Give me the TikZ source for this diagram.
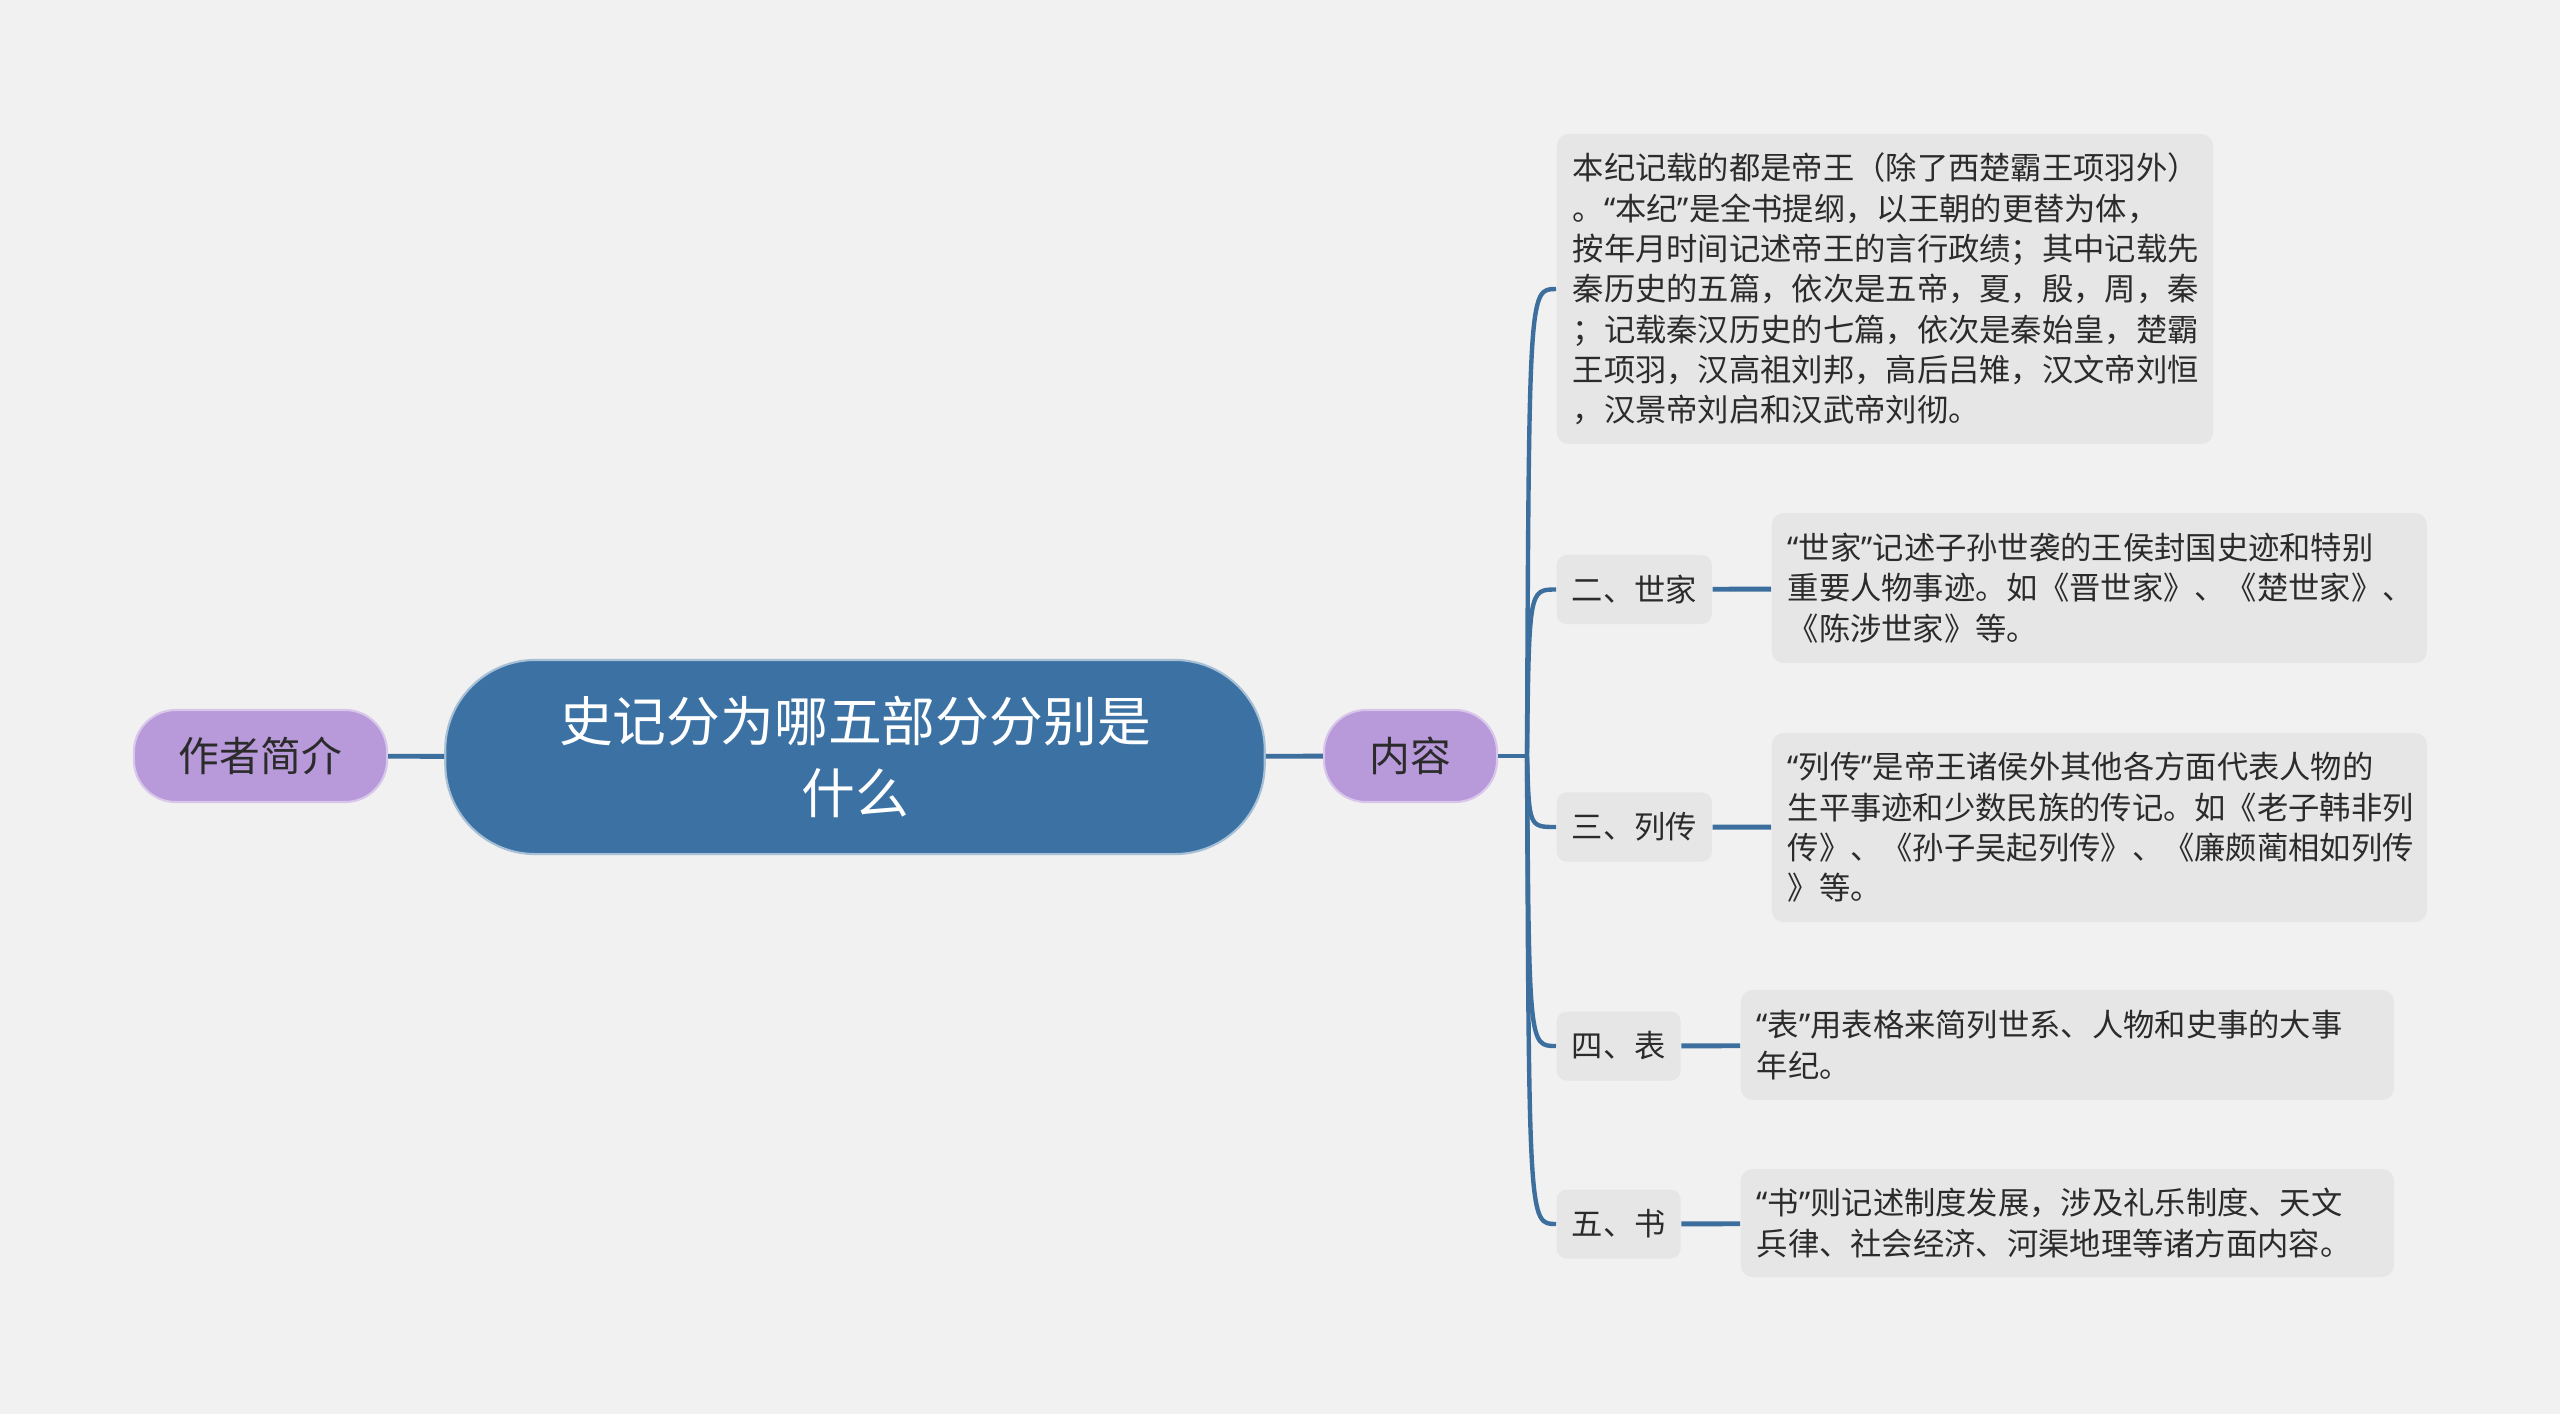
\documentclass[tikz,border=0pt]{standalone}
\usepackage{fontspec}
\setmainfont{Noto Sans CJK SC}
\newfontfamily\quotefont{Noto Sans}
\newcommand\qopen{{\quotefont “}}
\newcommand\qclose{{\quotefont ”}}
\usepackage{tikz}
\usetikzlibrary{calc}

\definecolor{bgcol}{HTML}{F1F1F1}
\definecolor{rootblue}{HTML}{3C72A3}
\definecolor{topicpurple}{HTML}{B899DA}
\definecolor{boxgray}{HTML}{E6E6E6}
\definecolor{linkblue}{HTML}{3D6F9E}
\definecolor{inkcol}{HTML}{2B2B2B}

\begin{document}
\begin{tikzpicture}[x=0.01cm, y=-0.01cm,
    rootnode/.style={fill=rootblue, draw=white!55!rootblue, line width=0.6pt,
      rounded corners=0.9cm, minimum width=8.19cm, minimum height=1.94cm,
      text=white, align=center, font=\fontsize{15.3pt}{20.5pt}\selectfont},
    topicnode/.style={fill=topicpurple, draw=white!45!topicpurple, line width=0.6pt,
      rounded corners=0.42cm, minimum height=0.92cm, text=inkcol,
      font=\fontsize{11.6pt}{14pt}\selectfont},
    labelnode/.style={fill=boxgray, rounded corners=0.1cm, minimum height=0.69cm,
      inner xsep=0.15cm, text=inkcol, anchor=west,
      font=\fontsize{8.9pt}{11.47pt}\selectfont},
    notebox/.style={fill=boxgray, rounded corners=0.12cm, inner xsep=0.16cm,
      align=left, text=inkcol, anchor=west,
      font=\fontsize{8.9pt}{11.47pt}\selectfont},
    link/.style={draw=linkblue, line width=1.4pt},
    curvelink/.style={draw=linkblue, line width=1.25pt}
  ]
  % Background and page size
  \fill[bgcol] (0,0) rectangle (2560,1414);
  \useasboundingbox (0,0) rectangle (2560,1414);

  % Central topic and the two main branches
  \node[rootnode] (root) at (855,757) {史记分为哪五部分分别是\\什么};
  \node[topicnode, minimum width=2.53cm] (author) at (260.5,756) {作者简介};
  \node[topicnode, minimum width=1.73cm] (content) at (1410.5,756) {内容};
  \draw[link] (author) -- (root);
  \draw[link] (root) -- (content);
  \coordinate (fork) at (1527,756);
  \draw[link] (content.east) -- (fork);

  % Children of the content branch
  \node[notebox, text width=6.24cm, minimum height=3.10cm] (benji) at (1556,289)
    {本纪记载的都是帝王（除了西楚霸王项羽外）\\
     。\qopen 本纪\qclose 是全书提纲，以王朝的更替为体，\\
     按年月时间记述帝王的言行政绩；其中记载先\\
     秦历史的五篇，依次是五帝，夏，殷，周，秦\\
     ；记载秦汉历史的七篇，依次是秦始皇，楚霸\\
     王项羽，汉高祖刘邦，高后吕雉，汉文帝刘恒\\
     ，汉景帝刘启和汉武帝刘彻。};
  \node[labelnode] (shijia) at (1556,589.5) {二、世家};
  \node[labelnode] (liezhuan) at (1556,827) {三、列传};
  \node[labelnode] (biao) at (1556,1046) {四、表};
  \node[labelnode] (shu) at (1556,1224) {五、书};

  % Curved connectors from the fork
  \foreach \c in {benji,shijia,liezhuan,biao,shu}
    \draw[curvelink] (fork) .. controls ($(fork |- \c.west)+(2,0)$) .. (\c.west);

  % Notes of each part
  \node[notebox, text width=6.23cm, minimum height=1.50cm] (shijiaText) at (1771,588)
    {\qopen 世家\qclose 记述子孙世袭的王侯封国史迹和特别\\
     重要人物事迹。如《晋世家》、《楚世家》、\\
     《陈涉世家》等。};
  \node[notebox, text width=6.23cm, minimum height=1.89cm] (liezhuanText) at (1771,827.5)
    {\qopen 列传\qclose 是帝王诸侯外其他各方面代表人物的\\
     生平事迹和少数民族的传记。如《老子韩非列\\
     传》、《孙子吴起列传》、《廉颇蔺相如列传\\
     》等。};
  \node[notebox, text width=6.21cm, minimum height=1.10cm] (biaoText) at (1740,1045)
    {\qopen 表\qclose 用表格来简列世系、人物和史事的大事\\
     年纪。};
  \node[notebox, text width=6.21cm, minimum height=1.08cm] (shuText) at (1740,1223)
    {\qopen 书\qclose 则记述制度发展，涉及礼乐制度、天文\\
     兵律、社会经济、河渠地理等诸方面内容。};
  \draw[link] (shijia) -- (shijiaText);
  \draw[link] (liezhuan) -- (liezhuanText);
  \draw[link] (biao) -- (biaoText);
  \draw[link] (shu) -- (shuText);
\end{tikzpicture}
\end{document}
